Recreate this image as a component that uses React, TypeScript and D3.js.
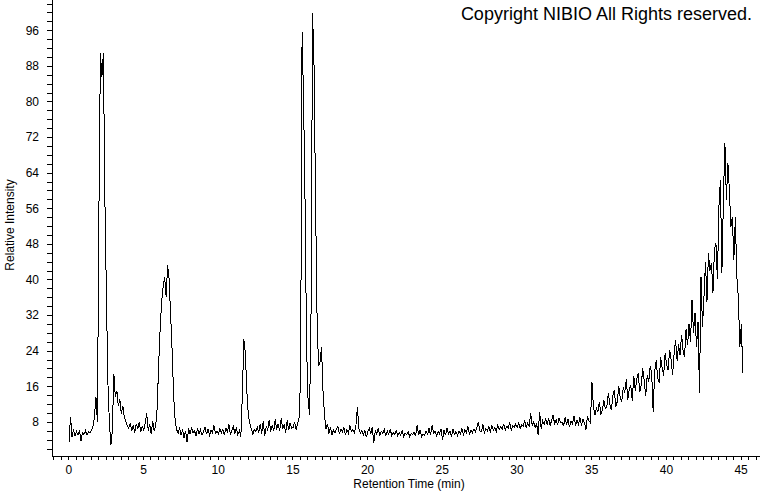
import React, { useEffect, useRef } from 'react';
import * as d3 from 'd3';

// sampling of the trace (min)
const startMin = 0.05;
const stepMin = 0.1;

// relative intensity, one row per minute
const intensity = [
  3.5, 9.2, 4.6, 6.3, 4.8, 5.9, 5.0, 6.1, 3.8, 5.6,
  5.2, 6.0, 5.0, 5.8, 5.5, 6.2, 6.9, 9.0, 13.6, 8.0,
  55, 90.8, 85.5, 90.9, 58, 37, 17, 8, 2.8, 6.0,
  18.8, 13.5, 15.0, 11.5, 13.2, 9.8, 11.6, 9.0, 8.2, 7.2,
  6.6, 7.8, 6.0, 7.2, 5.6, 7.6, 6.4, 8.0, 5.8, 7.0,
  6.2, 7.8, 10.0, 6.0, 7.5, 5.3, 8.2, 6.0, 7.0, 11.0,
  21, 29, 35, 38.5, 40.5, 36, 43.3, 40, 32, 24,
  14.0, 8.5, 6.3, 5.4, 6.8, 5.0, 6.3, 4.4, 6.0, 3.4,
  6.5, 5.2, 6.8, 5.6, 6.0, 4.8, 6.6, 5.3, 6.2, 5.0,
  5.8, 6.9, 5.2, 6.4, 5.0, 6.1, 5.5, 7.2, 5.4, 6.0,
  5.3, 6.5, 5.6, 6.3, 5.0, 6.7, 5.6, 7.4, 5.2, 6.1,
  7.0, 5.4, 6.8, 5.1, 6.0, 4.7, 14.0, 26.6, 23.5, 15.0,
  9.5, 7.6, 6.5, 5.2, 6.3, 5.8, 6.9, 5.6, 7.5, 5.4,
  8.2, 4.9, 7.0, 6.2, 8.4, 5.8, 7.3, 6.0, 8.6, 6.3,
  7.6, 5.9, 8.8, 6.5, 7.4, 5.5, 8.3, 6.1, 7.8, 6.6,
  6.8, 8.0, 6.2, 7.6, 9.0, 18, 95.6, 80, 57, 25,
  13, 9.5, 33, 99.9, 88, 58, 32, 20.5, 21.5, 24.8,
  15, 9.5, 6.5, 7.6, 5.4, 6.8, 5.0, 6.2, 5.6, 6.5,
  7.0, 5.2, 6.4, 5.7, 6.8, 5.0, 6.3, 5.5, 7.2, 5.8,
  6.3, 5.6, 7.0, 11.3, 6.5, 5.4, 6.0, 5.1, 6.2, 4.6,
  5.8, 6.5, 5.3, 6.8, 3.3, 6.0, 5.2, 6.6, 5.0, 5.9,
  5.4, 6.3, 4.8, 6.0, 5.2, 6.4, 4.9, 5.7, 5.1, 6.1,
  4.9, 5.6, 5.0, 6.0, 4.6, 5.5, 5.2, 5.8, 4.7, 5.4,
  5.1, 5.7, 4.8, 7.3, 5.0, 6.2, 4.6, 5.3, 5.0, 5.9,
  5.2, 6.6, 5.0, 7.2, 5.5, 6.0, 4.9, 5.8, 5.3, 6.4,
  4.0, 6.2, 5.0, 6.6, 5.3, 5.9, 4.7, 6.3, 5.2, 5.8,
  5.0, 6.0, 5.4, 6.5, 5.1, 6.3, 5.6, 7.0, 5.3, 6.1,
  5.5, 6.4, 5.7, 6.8, 8.0, 6.0, 5.8, 7.4, 5.6, 6.5,
  6.0, 6.9, 5.8, 7.1, 6.2, 6.8, 5.9, 7.3, 6.3, 6.9,
  6.4, 7.6, 6.1, 7.0, 6.6, 7.9, 6.2, 7.2, 6.8, 7.5,
  6.7, 7.8, 6.5, 7.4, 7.0, 8.3, 6.6, 7.7, 7.1, 10.0,
  7.2, 8.0, 6.8, 7.6, 5.0, 10.3, 6.5, 8.2, 7.4, 8.6,
  7.5, 8.8, 7.2, 8.3, 9.5, 7.6, 8.5, 7.3, 8.9, 7.8,
  8.0, 7.0, 9.0, 7.4, 8.6, 6.8, 8.2, 7.6, 9.3, 7.2,
  8.4, 7.5, 9.0, 7.1, 8.7, 7.8, 6.3, 9.2, 8.3, 7.8,
  17.0, 11.5, 9.5, 11.0, 10.2, 12.5, 9.6, 10.8, 12.8, 11.0,
  11.6, 14.4, 12.0, 10.6, 13.8, 15.2, 11.4, 12.6, 16.0, 13.2,
  12.6, 15.8, 14.6, 17.6, 13.0, 15.4, 16.2, 12.8, 18.4, 15.0,
  17.6, 19.0, 14.8, 16.2, 20.0, 17.2, 13.8, 18.6, 17.0, 20.6,
  18.8, 10.3, 19.4, 21.8, 18.0, 16.8, 22.6, 20.2, 18.4, 23.4,
  21.0, 19.6, 24.2, 22.0, 18.6, 23.2, 26.4, 21.8, 25.4, 23.0,
  27.6, 24.0, 22.6, 28.8, 25.2, 30.0, 26.0, 35.4, 28.0, 32.4,
  24.8, 30.5, 14.5, 40.6, 29.3, 36.0, 44.0, 35.0, 46.0, 42.0,
  43.7, 37.0, 46.6, 48.2, 40.0, 56.3, 62.4, 41.5, 57.9, 70.7,
  57.9, 66.2, 60.1, 51.8, 54.0, 44.4, 54.0, 40.6, 36.1, 24.8,
  30.0, 19.0,
];

const yTickLabels = [8, 16, 24, 32, 40, 48, 56, 64, 72, 80, 88, 96];
const xTickLabels = [0, 5, 10, 15, 20, 25, 30, 35, 40, 45];
const xTitle = 'Retention Time (min)';
const yTitle = 'Relative Intensity';
const copyright = 'Copyright NIBIO All Rights reserved.';

const font = '"Liberation Sans", Arial, sans-serif';

const App = () => {
  const ref = useRef<SVGSVGElement | null>(null);

  useEffect(() => {
    const svg = d3.select(ref.current);
    svg.selectAll('*').remove();

    const x = d3.scaleLinear().domain([-1.09, 46.3]).range([52, 760]);
    const y = d3.scaleLinear().domain([0, 102.8]).range([457.5, 0]);

    // y axis, minor tick every 2, label every 8
    const yAxis = d3.axisLeft(y)
      .tickValues(d3.range(2, 103, 2))
      .tickSize(5)
      .tickPadding(8)
      .tickFormat((d: any) => (yTickLabels.includes(d) ? String(d) : ''));
    svg.append('g')
      .attr('transform', 'translate(52,0)')
      .call(yAxis)
      .call((g: any) => g.select('.domain').remove())
      .attr('font-family', font)
      .attr('font-size', 12)
      .attr('shape-rendering', 'crispEdges');

    // x axis, tick every 0.5 min, label every 5
    const xAxis = d3.axisBottom(x)
      .tickValues(d3.range(-1, 46.1, 0.5))
      .tickSize(4)
      .tickPadding(5)
      .tickFormat((d: any) => (xTickLabels.includes(d) ? String(d) : ''));
    svg.append('g')
      .attr('transform', 'translate(0,456)')
      .call(xAxis)
      .call((g: any) => g.select('.domain').remove())
      .attr('font-family', font)
      .attr('font-size', 12)
      .attr('shape-rendering', 'crispEdges');

    svg.selectAll('.tick text').attr('fill', '#000');
    svg.selectAll('.tick line').attr('stroke', '#000');

    // axis lines
    svg.append('line')
      .attr('x1', 52.5).attr('x2', 52.5).attr('y1', 0).attr('y2', 456.5)
      .attr('stroke', '#000').attr('shape-rendering', 'crispEdges');
    svg.append('line')
      .attr('x1', 52).attr('x2', 760).attr('y1', 456.5).attr('y2', 456.5)
      .attr('stroke', '#000').attr('shape-rendering', 'crispEdges');

    // trace
    const line = d3.line<number>()
      .x((d, i) => x(startMin + i * stepMin))
      .y((d) => y(d));
    svg.append('path')
      .datum(intensity)
      .attr('d', line)
      .attr('fill', 'none')
      .attr('stroke', '#000')
      .attr('stroke-width', 1)
      .attr('shape-rendering', 'crispEdges');

    // titles
    svg.append('text')
      .attr('x', 409).attr('y', 488)
      .attr('text-anchor', 'middle')
      .attr('font-family', font).attr('font-size', 12)
      .text(xTitle);
    svg.append('text')
      .attr('transform', 'translate(14,225) rotate(-90)')
      .attr('text-anchor', 'middle')
      .attr('font-family', font).attr('font-size', 12)
      .text(yTitle);
    svg.append('text')
      .attr('x', 752).attr('y', 20)
      .attr('text-anchor', 'end')
      .attr('font-family', font).attr('font-size', 18)
      .text(copyright);
  }, []);

  return (
    <svg
      ref={ref}
      width="760"
      height="492"
      style={{ position: 'absolute', left: 0, top: 0, background: '#fff' }}
    />
  );
};

export default App;
